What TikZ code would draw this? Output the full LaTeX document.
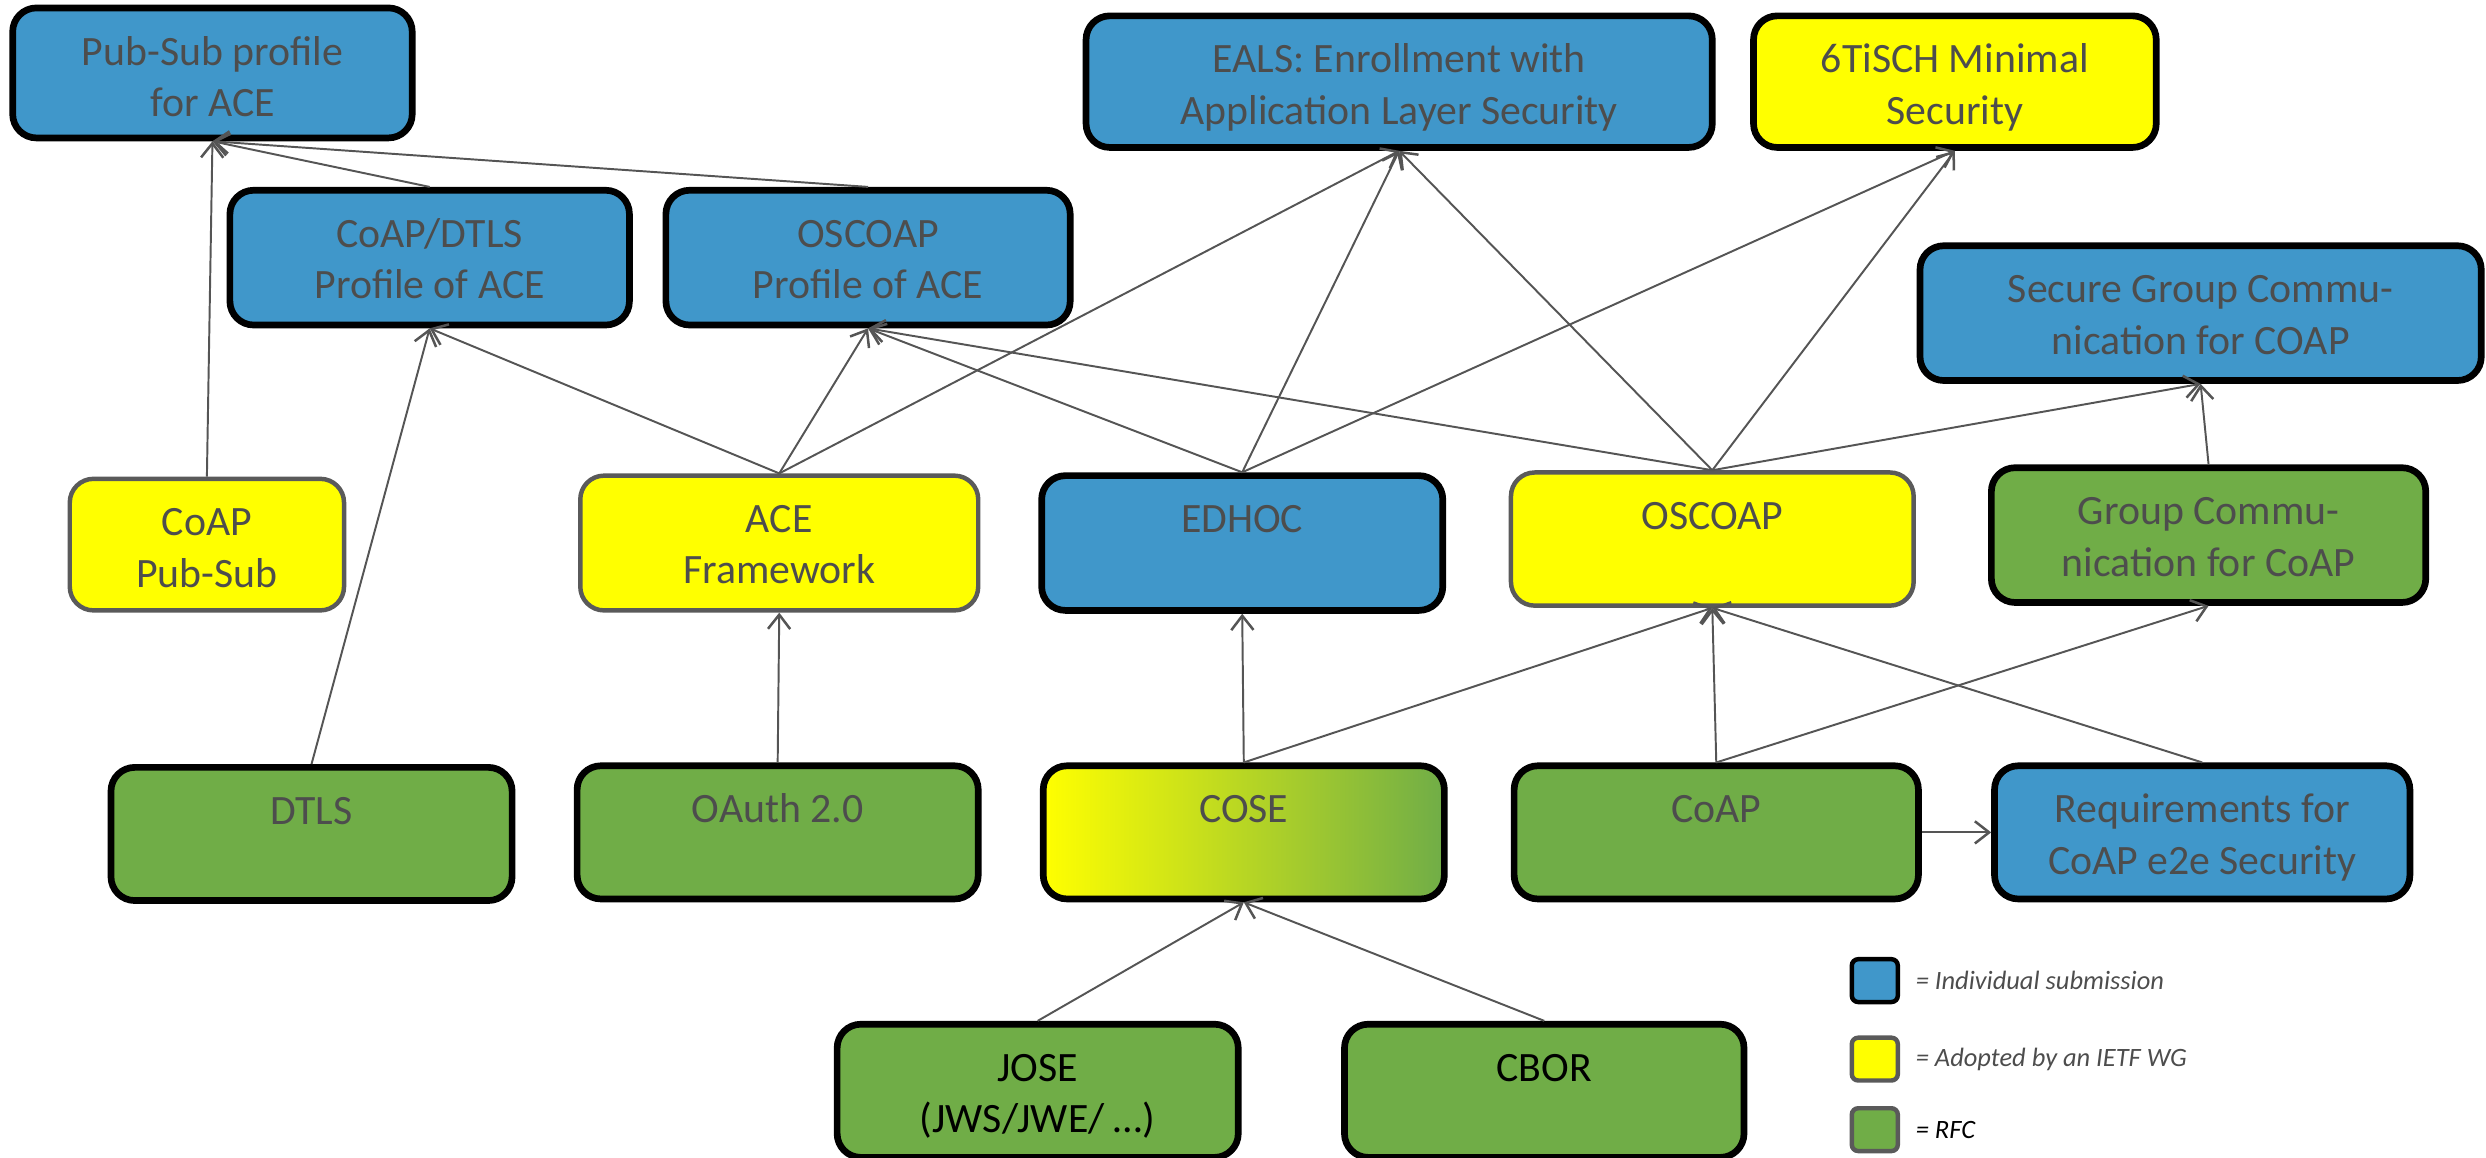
\documentclass[tikz,border=0pt]{standalone}
\usepackage{fontspec}
\setmainfont{Carlito}
\usetikzlibrary{arrows.meta}
\definecolor{ibl}{HTML}{4097CA}
\definecolor{iye}{HTML}{FFFF00}
\definecolor{igr}{HTML}{70AD47}
\definecolor{itx}{HTML}{4D4D4D}
\definecolor{iln}{HTML}{555555}
\definecolor{ibd}{HTML}{5A5A5A}
\newlength\pxu
\setlength\pxu{0.02cm}
\newcommand\bt[3]{\parbox[c][#2\pxu][t]{#1\pxu}{\centering\fontsize{15pt}{18.4pt}\selectfont\rule{0pt}{36\pxu}#3\par}}
\tikzset{
  box/.style={rounded corners=0.3cm, inner sep=0pt, text=itx},
  bluebox/.style={box, fill=ibl, draw=black, line width=2.4pt},
  yelbox/.style={box, fill=iye, draw=ibd, line width=1.6pt},
  yelblk/.style={box, fill=iye, draw=black, line width=2.4pt},
  grnbox/.style={box, fill=igr, draw=black, line width=2.4pt},
  cosebox/.style={box, left color=iye, right color=igr, draw=black, line width=2.4pt},
  arr/.style={draw=iln, line width=0.7pt, -{Straight Barb[length=0.18cm,width=0.28cm,line width=0.9pt]}},
  legsq/.style={rounded corners=0.08cm, line width=1.6pt, minimum width=29\pxu, minimum height=27\pxu, inner sep=0pt},
  legtx/.style={anchor=west, font=\itshape\fontsize{9.5pt}{11pt}\selectfont, text=itx, inner sep=0pt}
}
\begin{document}
\begin{tikzpicture}[x=0.02cm, y=-0.02cm]
\useasboundingbox (0,0) rectangle (1568,730);
% top row
\node[bluebox] (PubSub) at (134,46) {\bt{252}{82}{Pub-Sub profile\\for ACE}};
\node[bluebox] (EALS) at (882.5,51.5) {\bt{395}{83}{EALS: Enrollment with\\Application Layer Security}};
\node[yelblk] (SixT) at (1233,51.5) {\bt{254}{83}{6TiSCH Minimal\\Security}};
% second row
\node[bluebox] (CoAPDTLS) at (271,162.5) {\bt{252}{85}{CoAP/DTLS\\Profile of ACE}};
\node[bluebox] (OSCOAPprof) at (547.5,162.5) {\bt{255}{85}{OSCOAP\\Profile of ACE}};
\node[bluebox] (SecGroup) at (1388,197.5) {\bt{354}{85}{Secure Group Commu-\\nication for COAP}};
% third row
\node[yelbox] (CoAPPubSub) at (130.5,343.5) {\bt{173}{83}{CoAP\\Pub-Sub}};
\node[yelbox] (ACE) at (491.5,342.5) {\bt{251}{85}{ACE\\Framework}};
\node[bluebox] (EDHOC) at (783.5,342.5) {\bt{253}{85}{EDHOC}};
\node[yelbox] (OSCOAP) at (1080,340) {\bt{254}{84}{OSCOAP}};
\node[grnbox] (GroupComm) at (1393,337.5) {\bt{274}{85}{Group Commu-\\nication for CoAP}};
% fourth row
\node[grnbox] (DTLS) at (196.5,526) {\bt{253}{84}{DTLS}};
\node[grnbox] (OAuth) at (490.5,525) {\bt{253}{84}{OAuth 2.0}};
\node[cosebox] (COSE) at (784.5,525) {\bt{253}{84}{COSE}};
\node[grnbox] (CoAP) at (1082.5,525) {\bt{255}{84}{CoAP}};
\node[bluebox] (Req) at (1389,525) {\bt{262}{84}{Requirements for\\CoAP e2e Security}};
% bottom row
\node[grnbox, text=black] (JOSE) at (654.5,688) {\bt{253}{84}{JOSE\\(JWS/JWE/ …)}};
\node[grnbox, text=black] (CBOR) at (974,688) {\bt{252}{84}{CBOR}};
% connectors
\draw[arr] (CoAPPubSub.north) -- (PubSub.south);
\draw[arr] (CoAPDTLS.north) -- (PubSub.south);
\draw[arr] (OSCOAPprof.north) -- (PubSub.south);
\draw[arr] (DTLS.north) -- (CoAPDTLS.south);
\draw[arr] (ACE.north) -- (CoAPDTLS.south);
\draw[arr] (ACE.north) -- (OSCOAPprof.south);
\draw[arr] (ACE.north) -- (EALS.south);
\draw[arr] (EDHOC.north) -- (OSCOAPprof.south);
\draw[arr] (EDHOC.north) -- (EALS.south);
\draw[arr] (EDHOC.north) -- (SixT.south);
\draw[arr] (OSCOAP.north) -- (OSCOAPprof.south);
\draw[arr] (OSCOAP.north) -- (EALS.south);
\draw[arr] (OSCOAP.north) -- (SixT.south);
\draw[arr] (OSCOAP.north) -- (SecGroup.south);
\draw[arr] (GroupComm.north) -- (SecGroup.south);
\draw[arr] (OAuth.north) -- (ACE.south);
\draw[arr] (COSE.north) -- (EDHOC.south);
\draw[arr] (COSE.north) -- (OSCOAP.south);
\draw[arr] (CoAP.north) -- (OSCOAP.south);
\draw[arr] (CoAP.north) -- (GroupComm.south);
\draw[arr] (Req.north) -- (OSCOAP.south);
\draw[arr] (CoAP.east) -- (Req.west);
\draw[arr] (JOSE.north) -- (COSE.south);
\draw[arr] (CBOR.north) -- (COSE.south);
% legend
\node[legsq, fill=ibl, draw=black] (L1) at (1182.5,618.5) {};
\node[legsq, fill=iye, draw=ibd] (L2) at (1182.5,668) {};
\node[legsq, fill=igr, draw=ibd] (L3) at (1182.5,712.5) {};
\node[legtx] (T1) at (1208,618.5) {= Individual submission};
\node[legtx] (T2) at (1208,668) {= Adopted by an IETF WG};
\node[legtx, text=black] (T3) at (1208,712.5) {= RFC};
\end{tikzpicture}
\end{document}
